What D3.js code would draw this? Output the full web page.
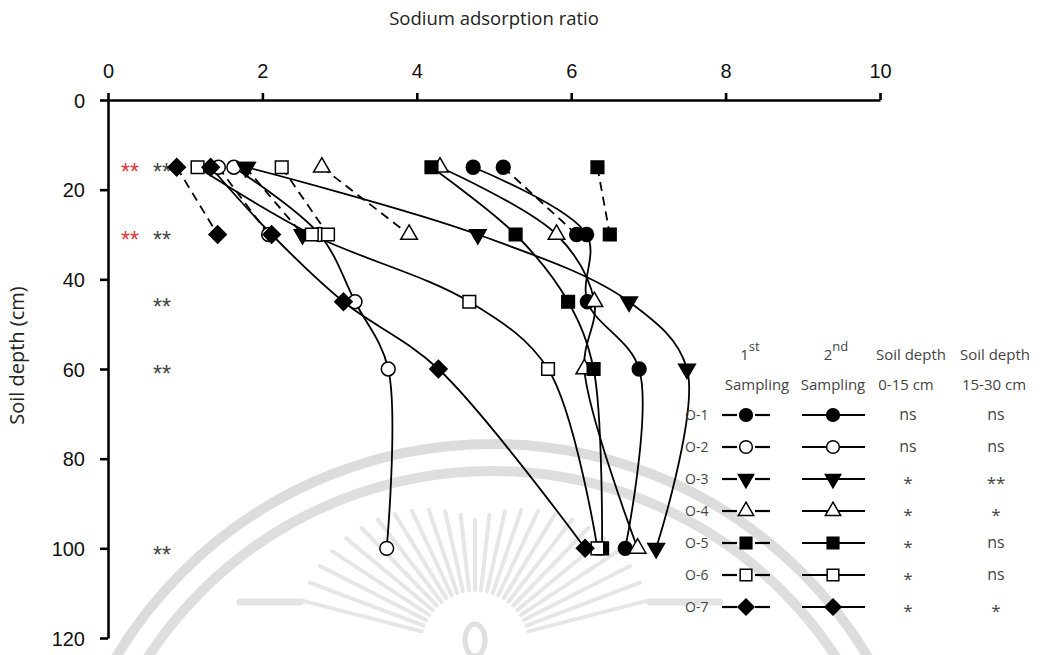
<!DOCTYPE html>
<html>
<head>
<meta charset="utf-8">
<script src="https://cdn.jsdelivr.net/npm/d3@7"></script>
<style>
  html, body { margin: 0; padding: 0; background: #fff; }
  svg { display: block; }
  .tick text { font-family: "Liberation Sans", Arial, sans-serif; font-size: 20px; fill: #111; }
  .lbl { font-family: "Open Sans", "Noto Sans", sans-serif; fill: #222; }
  .leg { font-family: "Open Sans", "Noto Sans", sans-serif; fill: #444; }
</style>
</head>
<body>
<svg id="chart" width="1043" height="655"></svg>
<script>
// Sodium adsorption ratio (SAR) by soil depth, plots O-1 .. O-7
const plots = ["O-1", "O-2", "O-3", "O-4", "O-5", "O-6", "O-7"];
const depthsFirst = [15, 30];
const depthsSecond = [15, 30, 45, 60, 100];

// 1st sampling SAR at 15 and 30 cm
const sarFirst = [
  [5.12, 6.07],
  [1.43, 2.08],
  [1.78, 2.52],
  [2.77, 3.90],
  [6.34, 6.50],
  [2.25, 2.85],
  [0.89, 1.42]
];
// 2nd sampling SAR at 15, 30, 45, 60 and 100 cm
const sarSecond = [
  [4.73, 6.20, 6.21, 6.88, 6.70],
  [1.63, 2.74, 3.20, 3.63, 3.61],
  [1.80, 4.79, 6.75, 7.50, 7.10],
  [4.30, 5.81, 6.30, 6.17, 6.86],
  [4.19, 5.28, 5.96, 6.29, 6.40],
  [1.16, 2.64, 4.68, 5.70, 6.34],
  [1.33, 2.12, 3.05, 4.28, 6.18]
];
// significance between samplings
const sigTop = ["ns", "ns", "*", "*", "*", "*", "*"];        // 0-15 cm
const sigSub = ["ns", "ns", "**", "*", "ns", "ns", "*"];     // 15-30 cm
const redMarkDepths = [15, 30];
const blackMarkDepths = [15, 30, 45, 60, 100];

const xTicks = [0, 2, 4, 6, 8, 10];
const yTicks = [0, 20, 40, 60, 80, 100, 120];

// marker look per plot
const markerShape = ["circle", "circle", "down", "up", "square", "square", "diamond"];
const markerFill = ["#000", "#fff", "#000", "#fff", "#000", "#fff", "#000"];

const svg = d3.select("#chart");
const x = d3.scaleLinear().domain([0, 10]).range([108, 880]);
const y = d3.scaleLinear().domain([0, 120]).range([100, 638]);

// faint emblem in the background
const bg = svg.append("g").attr("fill", "none");
[[438, "#dcdcdc"], [411, "#dedede"]].forEach(([r, c]) => {
  bg.append("circle").attr("cx", 492).attr("cy", 882).attr("r", r)
    .attr("stroke", c).attr("stroke-width", 10);
});
const rays = bg.append("g").attr("stroke", "#e6e6e6").attr("stroke-linecap", "round");
for (let i = 0; i <= 24; i++) {
  const a = Math.PI * (1.08 + i * 0.84 / 24);
  const r0 = 55, r1 = 125 + 55 * Math.abs(Math.cos(a));
  rays.append("line")
    .attr("x1", 475 + r0 * Math.cos(a)).attr("y1", 645 + r0 * Math.sin(a))
    .attr("x2", 475 + r1 * Math.cos(a)).attr("y2", 645 + r1 * Math.sin(a))
    .attr("stroke-width", 4);
}
bg.append("ellipse").attr("cx", 475).attr("cy", 640).attr("rx", 10).attr("ry", 16)
  .attr("stroke", "#e0e0e0").attr("stroke-width", 5);
[[240, 300], [650, 720]].forEach(([a, b]) => {
  bg.append("line").attr("x1", a).attr("x2", b).attr("y1", 602).attr("y2", 602)
    .attr("stroke", "#e4e4e4").attr("stroke-width", 7).attr("stroke-linecap", "round");
});

// axes
const xAxis = svg.append("g").attr("transform", `translate(0,${y(0)})`)
  .call(d3.axisTop(x).tickValues(xTicks).tickSize(7).tickSizeOuter(0).tickPadding(15));
const yAxis = svg.append("g").attr("transform", `translate(${x(0)},0)`)
  .call(d3.axisLeft(y).tickValues(yTicks).tickSize(8).tickSizeOuter(0).tickPadding(15));
[xAxis, yAxis].forEach(g => {
  g.select(".domain").attr("stroke", "#000").attr("stroke-width", 2.6);
  g.selectAll(".tick line").attr("stroke", "#000").attr("stroke-width", 2.6);
});
yAxis.selectAll(".tick text").attr("dy", "0.36em");

svg.append("text").attr("class", "lbl").attr("x", 494).attr("y", 25)
  .attr("text-anchor", "middle").attr("font-size", 18.5).text("Sodium adsorption ratio");
svg.append("text").attr("class", "lbl")
  .attr("transform", `translate(24,${y(57)}) rotate(-90)`)
  .attr("text-anchor", "middle").attr("font-size", 20).text("Soil depth (cm)");

// significance marks beside the depth axis
svg.append("g").selectAll("text").data(redMarkDepths).join("text")
  .attr("x", 130).attr("y", d => y(d) + 13).attr("text-anchor", "middle")
  .attr("font-family", "Liberation Sans, sans-serif").attr("font-size", 23)
  .attr("fill", "#e0383b").text("**");
svg.append("g").selectAll("text").data(blackMarkDepths).join("text")
  .attr("x", 162).attr("y", d => y(d) + 13 + (d === 100 ? 2 : 0)).attr("text-anchor", "middle")
  .attr("font-family", "Liberation Sans, sans-serif").attr("font-size", 23)
  .attr("fill", "#444").text("**");

function drawMarker(g, i, cx, cy, k) {
  const s = k || 1;
  const shape = markerShape[i];
  let path, rot = 0;
  if (shape === "circle") path = d3.symbol(d3.symbolCircle, 150 * s)();
  else if (shape === "square") path = d3.symbol(d3.symbolSquare, 160 * s)();
  else if (shape === "diamond") { path = d3.symbol(d3.symbolSquare, 150 * s)(); rot = 45; }
  else { path = d3.symbol(d3.symbolTriangle, 120 * s)(); rot = shape === "down" ? 180 : 0; }
  g.append("path").attr("d", path)
    .attr("transform", `translate(${cx},${cy}) rotate(${rot})`)
    .attr("fill", markerFill[i]).attr("stroke", "#000").attr("stroke-width", 1.5);
}

const curve = d3.line().curve(d3.curveCatmullRom.alpha(0.5));
const lines = svg.append("g").attr("fill", "none").attr("stroke", "#000").attr("stroke-width", 1.8);

plots.forEach((p, i) => {
  lines.append("path")
    .attr("d", curve(sarFirst[i].map((v, j) => [x(v), y(depthsFirst[j])])))
    .attr("stroke-dasharray", "9,6");
  lines.append("path")
    .attr("d", curve(sarSecond[i].map((v, j) => [x(v), y(depthsSecond[j])])));
});

const marks = svg.append("g");
plots.forEach((p, i) => {
  sarFirst[i].forEach((v, j) => drawMarker(marks, i, x(v), y(depthsFirst[j])));
  sarSecond[i].forEach((v, j) => drawMarker(marks, i, x(v), y(depthsSecond[j])));
});

// legend
const leg = svg.append("g");
const hdr = [
  { cx: 750, top: "1", sup: "st", bottom: "Sampling", bx: 757 },
  { cx: 836, top: "2", sup: "nd", bottom: "Sampling", bx: 833 },
  { cx: 911, top: "Soil depth", bottom: "0-15 cm", bx: 906 },
  { cx: 995, top: "Soil depth", bottom: "15-30 cm", bx: 994 }
];
hdr.forEach(h => {
  const t = leg.append("text").attr("class", "leg").attr("x", h.cx).attr("y", 360)
    .attr("text-anchor", "middle").attr("font-size", 15);
  t.append("tspan").text(h.top);
  if (h.sup) t.append("tspan").attr("dy", -9).attr("font-size", 13).text(h.sup);
  leg.append("text").attr("class", "leg").attr("x", h.bx).attr("y", 390)
    .attr("text-anchor", "middle").attr("font-size", 15).text(h.bottom);
});

plots.forEach((p, i) => {
  const ry = 415 + i * 32;
  leg.append("text").attr("class", "leg").attr("x", 685).attr("y", ry + 5)
    .attr("font-size", 14).attr("fill", "#555").text(p);
  leg.append("line").attr("x1", 722).attr("x2", 737).attr("y1", ry).attr("y2", ry)
    .attr("stroke", "#000").attr("stroke-width", 2.2);
  leg.append("line").attr("x1", 755).attr("x2", 770).attr("y1", ry).attr("y2", ry)
    .attr("stroke", "#000").attr("stroke-width", 2.2);
  drawMarker(leg, i, 746, ry, 0.85);
  leg.append("line").attr("x1", 802).attr("x2", 865).attr("y1", ry).attr("y2", ry)
    .attr("stroke", "#000").attr("stroke-width", 2.2);
  drawMarker(leg, i, 833, ry, 0.85);
  const big = v => v === "ns";
  leg.append("text").attr("class", "leg").attr("x", 908).attr("y", ry + (big(sigTop[i]) ? 5 : 10))
    .attr("text-anchor", "middle").attr("font-size", big(sigTop[i]) ? 16 : 17)
    .attr("fill", "#555").text(sigTop[i]);
  leg.append("text").attr("class", "leg").attr("x", 996).attr("y", ry + (big(sigSub[i]) ? 5 : 10))
    .attr("text-anchor", "middle").attr("font-size", big(sigSub[i]) ? 16 : 17)
    .attr("fill", "#555").text(sigSub[i]);
});
</script>
</body>
</html>
